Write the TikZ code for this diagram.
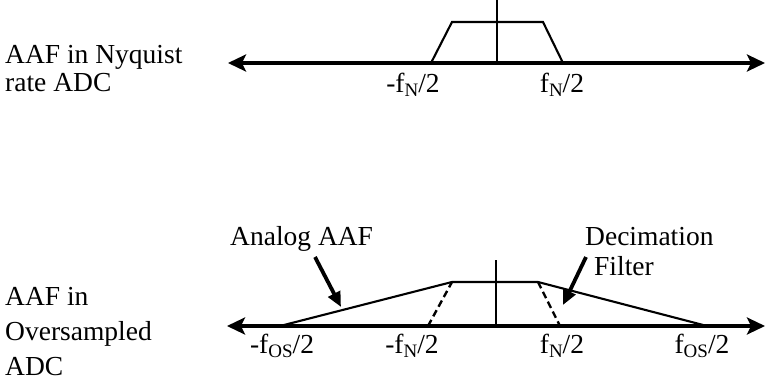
\documentclass[tikz,border=0pt]{standalone}
\usepackage{fontspec}
\setmainfont{Liberation Serif}
\usetikzlibrary{arrows.meta}
\newcommand\lsub[1]{\raisebox{-0.35ex}{\fontsize{19}{19}\selectfont #1}}
\begin{document}
\begin{tikzpicture}[x=1pt,y=-1pt,
  lbl/.style={font=\fontsize{27.5}{30}\selectfont, inner sep=0pt},
  axisline/.style={line width=3.2pt,
    {Stealth[length=18pt,width=17pt,inset=4pt]}-{Stealth[length=18pt,width=17pt,inset=4pt]}},
  curveline/.style={line width=2.1pt},
  dashcurve/.style={line width=2.4pt, dash pattern=on 7pt off 4pt},
  vline/.style={line width=2pt},
  pointer/.style={line width=3.8pt, -{Triangle[length=15pt,width=13pt]}}]
\useasboundingbox (0,0) rectangle (766,383);

% ---------- top: Nyquist rate ADC ----------
\node[lbl, anchor=base west] (t1) at (5,63) {AAF in Nyquist};
\node[lbl, anchor=base west] (t2) at (5,91) {rate ADC};

\coordinate (aL) at (228,63);
\coordinate (aR) at (765,63);
\draw[axisline] (aL) -- (aR);
\coordinate (v1t) at (497,0);
\coordinate (v1b) at (497,63);
\draw[vline] (v1t) -- (v1b);

\coordinate (p1) at (431,63);
\coordinate (p2) at (452,22);
\coordinate (p3) at (543,22);
\coordinate (p4) at (563,63);
\draw[curveline] (p1) -- (p2) -- (p3) -- (p4);

\node[lbl, anchor=base] (l1) at (413,92) {-f\lsub{N}/2};
\node[lbl, anchor=base] (l2) at (562,92) {f\lsub{N}/2};

% ---------- bottom: Oversampled ADC ----------
\node[lbl, anchor=base west] (b1) at (5,305) {AAF in};
\node[lbl, anchor=base west] (b2) at (5,340) {Oversampled};
\node[lbl, anchor=base west] (b3) at (5,375) {ADC};

\coordinate (bL) at (227,326);
\coordinate (bR) at (765,326);
\draw[axisline] (bL) -- (bR);
\coordinate (v2t) at (496,260);
\coordinate (v2b) at (496,326);
\draw[vline] (v2t) -- (v2b);

\coordinate (q1) at (280,326);
\coordinate (q2) at (452,282);
\coordinate (q3) at (538,282);
\coordinate (q4) at (707,326);
\draw[curveline] (q1) -- (q2) -- (q3) -- (q4);

\coordinate (d1) at (428,326);
\coordinate (d2) at (560,326);
\draw[dashcurve] (d1) -- (q2);
\draw[dashcurve] (q3) -- (d2);

\node[lbl, anchor=base] (m1) at (282,353) {-f\lsub{OS}/2};
\node[lbl, anchor=base] (m2) at (412,353) {-f\lsub{N}/2};
\node[lbl, anchor=base] (m3) at (562,353) {f\lsub{N}/2};
\node[lbl, anchor=base] (m4) at (702,353) {f\lsub{OS}/2};

\node[lbl, anchor=base west] (an) at (230,245) {Analog AAF};
\node[lbl, anchor=base west] (de) at (585,245) {Decimation};
\node[lbl, anchor=base west] (fi) at (594,275) {Filter};

\coordinate (anT) at (315,257);
\coordinate (anH) at (341,307);
\draw[pointer] (anT) -- (anH);
\coordinate (deT) at (586,257);
\coordinate (deH) at (563,305);
\draw[pointer] (deT) -- (deH);
\end{tikzpicture}
\end{document}
